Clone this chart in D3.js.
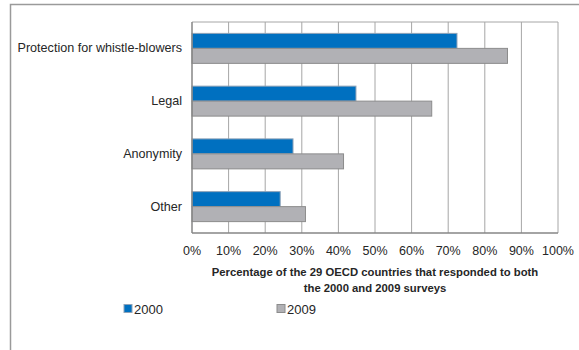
<!DOCTYPE html>
<html lang="en">
<head>
<meta charset="UTF-8">
<title>Whistle-blower measures</title>
<script src="https://cdn.jsdelivr.net/npm/d3@7"></script>
<style>
  body { margin: 0; background: #fff; }
  text { font-family: "Liberation Sans", Arial, sans-serif; fill: #262626; }
</style>
</head>
<body>
<div id="chart"></div>
<script>
// categories top to bottom
const categories = ['Protection for whistle-blowers', 'Legal', 'Anonymity', 'Other'];
const seriesNames = ['2000', '2009'];
const values2000 = [72.4, 44.8, 27.6, 24.1];
const values2009 = [86.2, 65.5, 41.4, 31.0];
const xTicks = [0, 10, 20, 30, 40, 50, 60, 70, 80, 90, 100];
const colors = ['#0070c0', '#b1b1b5'];
const strokes = ['#8fa3b8', '#8c8c8c'];

const width = 579, height = 350;
const plot = { left: 192, right: 558, top: 22, bottom: 233 };

const svg = d3.select('#chart').append('svg')
    .attr('width', width)
    .attr('height', height);

// outer chart border (runs off the right and bottom edges)
svg.append('rect')
    .attr('x', 10.5).attr('y', 4.5)
    .attr('width', 600).attr('height', 400)
    .attr('fill', 'none')
    .attr('stroke', '#9a9a9a')
    .attr('stroke-width', 1.5);

const x = d3.scaleLinear().domain([0, 100]).range([plot.left, plot.right]);
const y = d3.scaleBand().domain(categories).range([plot.top, plot.bottom]).paddingInner(0).paddingOuter(0);
const sub = d3.scaleBand().domain(seriesNames).range([0, y.bandwidth()]).paddingOuter(0.76).paddingInner(0);

// vertical gridlines
svg.append('g')
    .selectAll('line')
    .data(xTicks.slice(1))
    .join('line')
    .attr('x1', d => x(d)).attr('x2', d => x(d))
    .attr('y1', plot.top).attr('y2', plot.bottom)
    .attr('stroke', '#a6a6a6')
    .attr('stroke-width', 1);

// top border of plot
svg.append('line')
    .attr('x1', plot.left).attr('x2', plot.right)
    .attr('y1', plot.top).attr('y2', plot.top)
    .attr('stroke', '#a6a6a6');

// bars
const rows = categories.map((c, i) => ({ cat: c, vals: [values2000[i], values2009[i]] }));
const g = svg.append('g');
rows.forEach(row => {
    row.vals.forEach((v, j) => {
        g.append('rect')
            .attr('x', x(0))
            .attr('y', y(row.cat) + sub(seriesNames[j]))
            .attr('width', x(v) - x(0))
            .attr('height', sub.bandwidth())
            .attr('fill', colors[j])
            .attr('stroke', strokes[j])
            .attr('stroke-width', 1);
    });
});

// axes lines
svg.append('line')
    .attr('x1', plot.left).attr('x2', plot.left)
    .attr('y1', plot.top).attr('y2', plot.bottom)
    .attr('stroke', '#868686').attr('stroke-width', 1.5);
svg.append('line')
    .attr('x1', plot.left).attr('x2', plot.right)
    .attr('y1', plot.bottom).attr('y2', plot.bottom)
    .attr('stroke', '#868686').attr('stroke-width', 1.5);

// x tick labels
svg.append('g')
    .selectAll('text')
    .data(xTicks)
    .join('text')
    .attr('x', d => x(d))
    .attr('y', 255)
    .attr('text-anchor', 'middle')
    .attr('font-size', 12.5)
    .text(d => d + '%');

// category labels
svg.append('g')
    .selectAll('text')
    .data(categories)
    .join('text')
    .attr('x', 182)
    .attr('y', d => y(d) + y.bandwidth() / 2 + 4)
    .attr('text-anchor', 'end')
    .attr('font-size', 12.6)
    .text(d => d);

// axis title
const title = svg.append('text')
    .attr('text-anchor', 'middle')
    .attr('font-size', 11.3)
    .attr('font-weight', 'bold');
title.append('tspan').attr('x', 375).attr('y', 276)
    .text('Percentage of the 29 OECD countries that responded to both');
title.append('tspan').attr('x', 375).attr('y', 292)
    .text('the 2000 and 2009 surveys');

// legend
const legendX = [124, 277];
seriesNames.forEach((s, j) => {
    svg.append('rect')
        .attr('x', legendX[j]).attr('y', 304.5)
        .attr('width', 8).attr('height', 8)
        .attr('fill', colors[j])
        .attr('stroke', strokes[j]);
    svg.append('text')
        .attr('x', legendX[j] + 10).attr('y', 313.5)
        .attr('font-size', 13)
        .text(s);
});
</script>
</body>
</html>
